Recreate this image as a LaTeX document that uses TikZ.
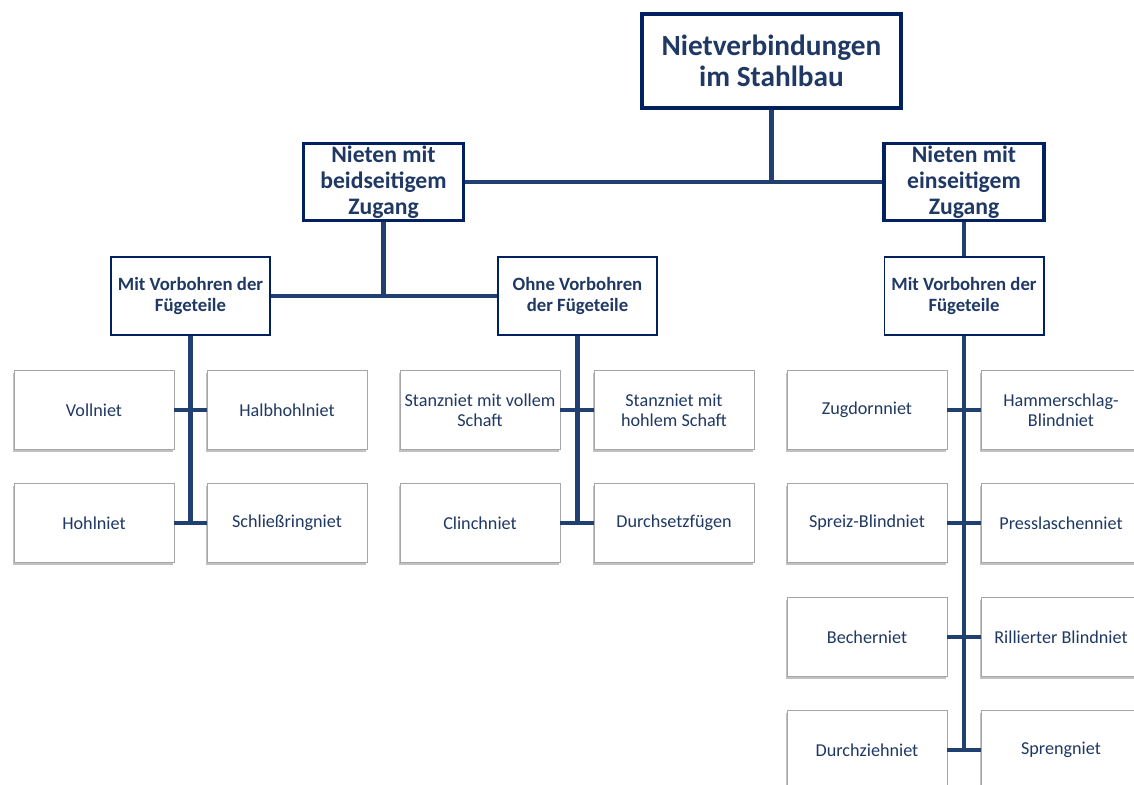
\documentclass[tikz,border=0pt]{standalone}
\usepackage{fontspec}
\setmainfont{Carlito}
\usepackage{tikz}
\usetikzlibrary{shadows}
\definecolor{navy}{RGB}{0,32,96}
\definecolor{linie}{RGB}{31,64,112}
\definecolor{schrift}{RGB}{31,56,100}
\begin{document}
\begin{tikzpicture}[x=0.03cm,y=-0.03cm,
  kopf/.style={draw=navy,fill=white,align=center,text=schrift,inner sep=0pt},
  stufe1/.style={kopf,line width=3.4pt,minimum width=7.77cm,minimum height=2.82cm,font=\fontsize{25}{27}\selectfont\bfseries},
  stufe2/.style={kopf,line width=2.6pt,minimum width=4.8cm,minimum height=2.31cm,font=\fontsize{20.2}{22}\selectfont\bfseries},
  stufe3/.style={kopf,line width=1.7pt,minimum width=4.77cm,minimum height=2.34cm,font=\fontsize{16}{18}\selectfont\bfseries},
  blatt/.style={draw=black!35,fill=white,align=center,text=schrift,inner sep=0pt,minimum width=4.8cm,minimum height=2.37cm,
    font=\fontsize{15.5}{17}\selectfont,drop shadow={shadow xshift=-0.6pt,shadow yshift=-2pt,opacity=.35,fill=black!70}},
  verb/.style={draw=linie,line width=3.8pt}]
\useasboundingbox (0,0) rectangle (1134,785);
\node[stufe1] (niet) at (771.5,61) {Nietverbindungen\\im Stahlbau};
\node[stufe2] (beid) at (383.5,182) {Nieten mit\\beidseitigem\\Zugang};
\node[stufe2] (ein) at (964,182) {Nieten mit\\einseitigem\\Zugang};
\node[stufe3] (mitL) at (190.5,296) {Mit Vorbohren der\\Fügeteile};
\node[stufe3] (ohne) at (577.5,296) {Ohne Vorbohren\\der Fügeteile};
\node[stufe3] (mitR) at (964,296) {Mit Vorbohren der\\Fügeteile};
% Blaetter
\foreach \n/\x/\y/\t in {voll/94/410/Vollniet,halb/287/410/Halbhohlniet,hohl/94/523/Hohlniet,schliess/287/523/Schließringniet,
  stvoll/480/410/{Stanzniet mit vollem\\Schaft},sthohl/674/410/{Stanzniet mit\\hohlem Schaft},clinch/480/523/Clinchniet,durchs/674/523/Durchsetzfügen,
  zug/867/410/Zugdornniet,hammer/1061/410/{Hammerschlag-\\Blindniet},spreiz/867/523/Spreiz-Blindniet,press/1061/523/Presslaschenniet,
  becher/867/637/Becherniet,rill/1061/637/Rillierter Blindniet,durchz/867/750/Durchziehniet,spreng/1061/750/Sprengniet}
  {\node[blatt] (\n) at (\x,\y) {\t};}
% Verbindungen
\draw[verb] (niet.south) -- (niet.south |- beid.east);
\draw[verb] (beid.east) -- (ein.west);
\draw[verb] (beid.south) -- (beid.south |- mitL.east);
\draw[verb] (mitL.east) -- (ohne.west);
\draw[verb] (ein.south) -- (mitR.north);
\draw[verb] (mitL.south) -- (mitL.south |- hohl.east);
\draw[verb] (ohne.south) -- (ohne.south |- clinch.east);
\draw[verb] (mitR.south) -- (mitR.south |- durchz.east);
\foreach \a/\b in {voll/halb,hohl/schliess,stvoll/sthohl,clinch/durchs,zug/hammer,spreiz/press,becher/rill,durchz/spreng}
  {\draw[verb] (\a.east) -- (\b.west);}
\end{tikzpicture}
\end{document}
